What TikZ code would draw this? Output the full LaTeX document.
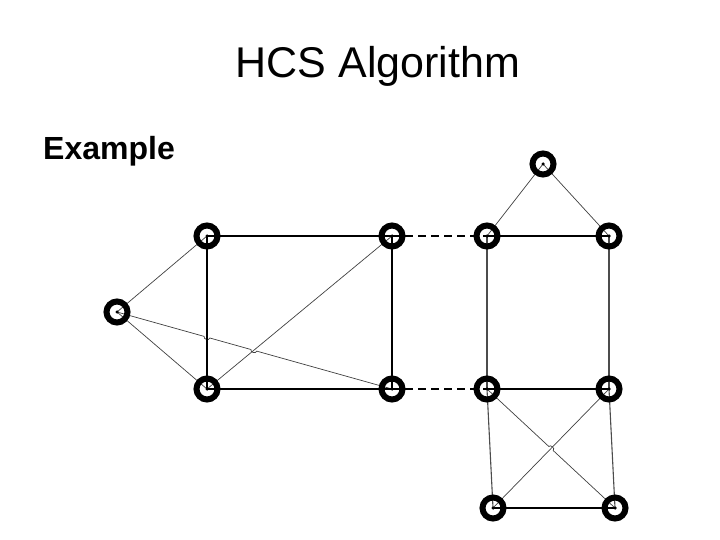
\documentclass[tikz,border=0pt]{standalone}
\usepackage{fontspec}
\setmainfont{Liberation Sans}
\usetikzlibrary{calc}
\begin{document}
\begin{tikzpicture}[x=1pt,y=-1pt,
  ring/.style={draw=black,line width=6pt},
  dotc/.style={circle,fill=black,minimum size=3.5pt,inner sep=0pt},
  mainedge/.style={draw=black,line width=1.3pt},
  thinedge/.style={draw=black!75,line width=0.7pt},
  greyedge/.style={draw=black!70,line width=1.1pt},
  dashedge/.style={draw=black,line width=1.3pt,dash pattern=on 8pt off 5pt}]
\useasboundingbox (0,0) rectangle (720,540);
\node[font=\fontsize{43}{50}\selectfont,anchor=base] (title) at (378,78) {HCS Algorithm};
\node[font=\bfseries\fontsize{32}{36}\selectfont,anchor=base west,inner sep=0pt] (ex) at (43,160) {Example};
\foreach \n/\x/\y in {A/117/312,B/207/236,C/392/236,D/207/389,E/392/389,F/487/236,G/609/236,H/543/164,I/487/389,J/609/389,K/493/508,L/615/508}
  \coordinate (\n) at (\x,\y);
\coordinate (x1) at (207,337.2);
\coordinate (x2) at (253.8,350.3);
\coordinate (x3) at (551,448.5);
% edges
\path[thinedge] (A) -- (B);
\path[thinedge] (A) -- (D);
\path[thinedge] (A) -- ($(x1)!3pt!(A)$) to[bend right=90,looseness=1.3] ($(x1)!3pt!(E)$)
  -- ($(x2)!3pt!(A)$) to[bend right=90,looseness=1.3] ($(x2)!3pt!(E)$) -- (E);
\path[thinedge] (C) -- (D);
\path[mainedge] (B) -- (C);
\path[mainedge] (B) -- (D);
\path[mainedge] (C) -- (E);
\path[mainedge] (D) -- (E);
\path[dashedge] (C) -- (F);
\path[dashedge] (E) -- (I);
\path[mainedge] (F) -- (G);
\path[thinedge] (F) -- (H);
\path[thinedge] (G) -- (H);
\path[greyedge] (F) -- (I);
\path[greyedge] (G) -- (J);
\path[mainedge] (I) -- (J);
\path[greyedge] (I) -- (K);
\path[greyedge] (J) -- (L);
\path[mainedge] (K) -- (L);
\path[thinedge] (I) -- ($(x3)!3pt!(I)$) to[bend left=90,looseness=1.3] ($(x3)!3pt!(L)$) -- (L);
\path[thinedge] (J) -- (K);
\foreach \n in {A,B,C,D,E,F,G,H,I,J,K,L}{
  \path[ring] (\n) circle[radius=10.5pt];
  \node[dotc] (d\n) at (\n) {};
}
\end{tikzpicture}
\end{document}
